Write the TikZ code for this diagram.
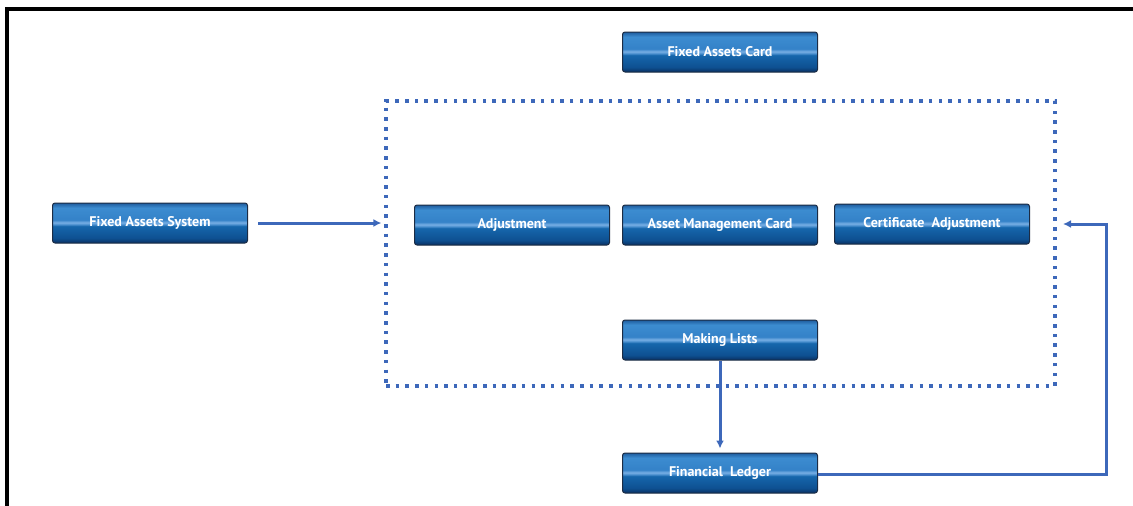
\documentclass[tikz,border=0pt]{standalone}
\usepackage{fontspec}
\setsansfont{PT Sans}
\usetikzlibrary{arrows.meta}

\definecolor{linkblue}{HTML}{3D68BA}
\definecolor{boxedge}{HTML}{1C2C44}
\definecolor{glossa}{RGB}{8,48,98}
\definecolor{glossb}{RGB}{14,80,145}
\definecolor{glossc}{RGB}{22,102,172}
\definecolor{glossd}{RGB}{80,148,210}
\definecolor{glosse}{RGB}{120,175,228}
\definecolor{glossf}{RGB}{52,130,200}
\definecolor{glossg}{RGB}{60,140,208}
\definecolor{glossh}{RGB}{30,92,158}
\pgfdeclareverticalshading{glossy}{100bp}{%
  color(0bp)=(glossa); color(25bp)=(glossa); color(31bp)=(glossb);
  color(46bp)=(glossc); color(48.5bp)=(glossd); color(50.5bp)=(glosse);
  color(54bp)=(glossf); color(69bp)=(glossg); color(75bp)=(glossh);
  color(100bp)=(glossh)}

\begin{document}
\begin{tikzpicture}[x=1pt,y=-1pt,
    stepbox/.style={draw=boxedge,line width=1pt,rounded corners=2.5pt,shading=glossy,
      minimum width=195pt,minimum height=40pt,inner sep=0pt,
      text=white,font=\sffamily\bfseries\fontsize{14}{16}\selectfont},
    groupbox/.style={draw=linkblue,line width=3.2pt,dash pattern=on 3.5pt off 6.2pt,
      minimum width=669pt,minimum height=285pt,inner sep=0pt},
    flow/.style={draw=linkblue,line width=3pt,-{Latex[length=8pt,width=8pt]}}]
        \useasboundingbox (0,0) rectangle (1133,506);
        \draw[line width=3.5pt] (1133,9) -- (7,9) -- (7,506);

        \node[groupbox] (group) at (720.5,243.5) {};

        \node[stepbox] (fac) at (720,52) {Fixed Assets Card};
        \node[stepbox] (fas) at (150,223) {Fixed Assets System};
        \node[stepbox] (adj) at (512,225) {Adjustment};
        \node[stepbox] (amc) at (720,225) {Asset Management Card};
        \node[stepbox] (cad) at (932,224) {Certificate~ Adjustment};
        \node[stepbox] (mkl) at (720,340) {Making Lists};
        \node[stepbox] (fnl) at (720,473) {Financial~ Ledger};

        \draw[flow,shorten <=10pt,shorten >=3pt] (fas.east) -- (fas.east -| group.west);
        \draw[flow,shorten >=4pt] (mkl.south) -- (fnl.north);

        \coordinate (turn) at (1106,474);
        \coordinate (retin) at (1063,224);
        \draw[flow] (fnl.east |- turn) -- (turn) |- (retin);
      \end{tikzpicture}
\end{document}
